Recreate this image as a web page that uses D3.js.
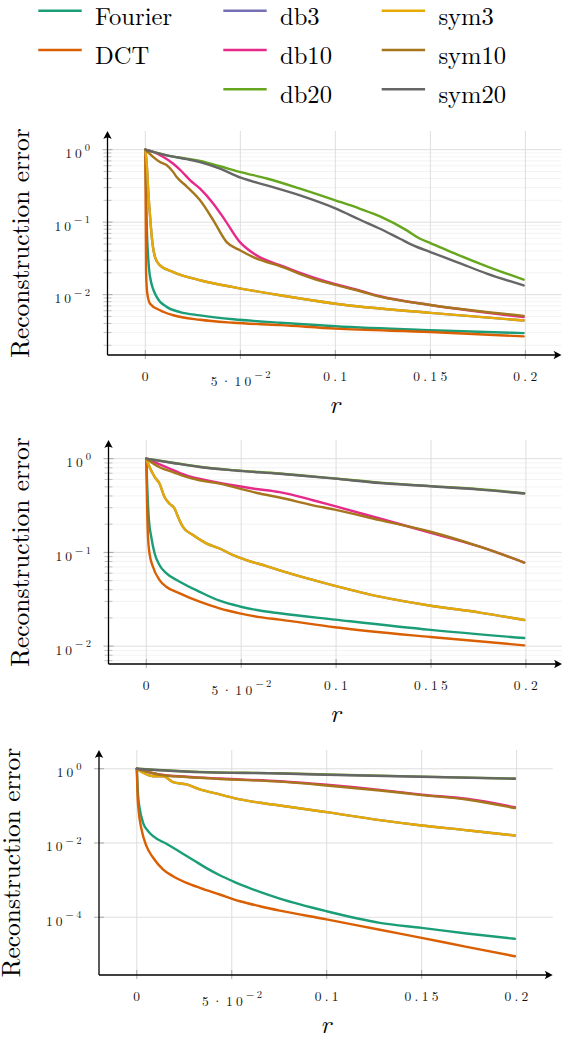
<!DOCTYPE html>
<html>
<head>
<meta charset="utf-8">
<script src="https://cdn.jsdelivr.net/npm/d3@7"></script>
<style>
body{margin:0;background:#fff}
svg{display:block}
</style>
</head>
<body>
<script>
var w=562, h=1038;

// series, in drawing order
var names=["Fourier","DCT","db3","db10","db20","sym3","sym10","sym20"];
var colors=["#1b9e77","#d95f02","#7570b3","#e7298a","#66a61e","#e6ab02","#a6761d","#666666"];

// legend slots, row by row (null = empty slot)
var legendRows=[["Fourier","db3","sym3"],["DCT","db10","sym10"],[null,"db20","sym20"]];

var xTicks=[0,0.05,0.1,0.15,0.2];
var xTickBase=["0","5·10","0.1","0.15","0.2"];
var xTickSup=["","−2","","",""];

// y tick exponents per panel
var p1Exp=[0,-1,-2], p2Exp=[0,-1,-2], p3Exp=[0,-2,-4];

// ---- panel 1 : [r, error]
var p1Fourier=[[0,1],[0.0008,0.08],[0.0016,0.03],[0.0025,0.0175],[0.006,0.0093],[0.0113,0.00675],[0.0183,0.00575],[0.0288,0.00518],[0.0463,0.00457],[0.0709,0.0041],[0.1,0.00366],[0.15,0.00323],[0.1991,0.00295]];
var p1DCT=[[0,1],[0.0004,0.02],[0.001,0.0105],[0.0025,0.0075],[0.0077,0.0061],[0.0147,0.0052],[0.0288,0.0045],[0.0463,0.0041],[0.0709,0.0038],[0.1,0.0034],[0.15,0.00305],[0.1991,0.00266]];
var p1Db3=[[0,1],[0.0008,0.6],[0.0016,0.25],[0.0025,0.12],[0.0034,0.062],[0.0051,0.033],[0.0077,0.0253],[0.0147,0.0205],[0.0288,0.0158],[0.0463,0.0127],[0.0709,0.0098],[0.1,0.0075],[0.15,0.0056],[0.1991,0.0044]];
var p1Db10=[[0,1],[0.0042,0.93],[0.0095,0.79],[0.0147,0.64],[0.0192,0.50],[0.0235,0.38],[0.0288,0.29],[0.0358,0.18],[0.042,0.106],[0.0498,0.053],[0.0568,0.0372],[0.0726,0.0245],[0.0867,0.0178],[0.1,0.0139],[0.1113,0.0117],[0.1235,0.0095],[0.15,0.0072],[0.176,0.0058],[0.1991,0.0049]];
var p1Db20=[[0,1],[0.0113,0.834],[0.0218,0.75],[0.0288,0.70],[0.0393,0.59],[0.0502,0.49],[0.0639,0.40],[0.0814,0.29],[0.1,0.2],[0.113,0.153],[0.1235,0.12],[0.1376,0.077],[0.1446,0.059],[0.15,0.0515],[0.1639,0.036],[0.1797,0.0246],[0.1991,0.0161]];
var p1Sym3=[[0,1],[0.0008,0.6],[0.0016,0.25],[0.0025,0.12],[0.0034,0.062],[0.0051,0.033],[0.0077,0.0253],[0.0147,0.0205],[0.0288,0.0158],[0.0463,0.0127],[0.0709,0.0098],[0.1,0.0075],[0.15,0.0056],[0.1991,0.0044]];
var p1Sym10=[[0,1],[0.0042,0.79],[0.0077,0.675],[0.0113,0.61],[0.0147,0.49],[0.0165,0.42],[0.0218,0.31],[0.0288,0.2],[0.0358,0.106],[0.0428,0.053],[0.0498,0.041],[0.0568,0.033],[0.0726,0.0238],[0.0867,0.0172],[0.1,0.0136],[0.1113,0.0115],[0.1235,0.0094],[0.15,0.0072],[0.176,0.0059],[0.1991,0.0051]];
var p1Sym20=[[0,1],[0.0113,0.834],[0.0218,0.74],[0.0288,0.675],[0.0393,0.547],[0.0502,0.41],[0.0639,0.322],[0.0814,0.234],[0.1,0.155],[0.113,0.108],[0.1235,0.081],[0.134,0.059],[0.141,0.0479],[0.15,0.0387],[0.1639,0.0282],[0.1797,0.0195],[0.1991,0.0134]];

// ---- panel 2
var p2Fourier=[[0,1],[0.0005,0.5],[0.0014,0.22],[0.0026,0.147],[0.0044,0.0975],[0.007,0.073],[0.0105,0.06],[0.0176,0.0487],[0.0281,0.038],[0.0386,0.0305],[0.0492,0.0265],[0.0597,0.024],[0.0703,0.0224],[0.0994,0.0192],[0.1498,0.0149],[0.1991,0.0122]];
var p2DCT=[[0,1],[0.0004,0.33],[0.0009,0.147],[0.0017,0.0975],[0.0035,0.0703],[0.007,0.0507],[0.0105,0.043],[0.0176,0.0366],[0.0281,0.0298],[0.0386,0.0253],[0.0492,0.0224],[0.0597,0.0204],[0.0703,0.0192],[0.0994,0.0159],[0.1498,0.0125],[0.1991,0.0102]];
var p2Db3=[[0,1],[0.0017,0.815],[0.0044,0.64],[0.007,0.54],[0.0096,0.39],[0.0123,0.33],[0.0149,0.294],[0.0167,0.24],[0.0193,0.187],[0.0246,0.153],[0.0316,0.125],[0.0386,0.11],[0.0457,0.0936],[0.0527,0.0828],[0.0633,0.0715],[0.0734,0.0615],[0.0994,0.044],[0.123,0.0337],[0.1498,0.027],[0.1757,0.0228],[0.1991,0.019]];
var p2Db10=[[0,1],[0.0105,0.814],[0.0211,0.664],[0.0316,0.588],[0.0457,0.52],[0.0562,0.48],[0.0703,0.44],[0.0878,0.36],[0.0994,0.311],[0.123,0.23],[0.1498,0.162],[0.1757,0.115],[0.1991,0.078]];
var p2Db20=[[0,1],[0.014,0.905],[0.0281,0.82],[0.0457,0.755],[0.0703,0.695],[0.0994,0.615],[0.123,0.555],[0.1498,0.51],[0.1757,0.472],[0.1991,0.428]];
var p2Sym3=[[0,1],[0.0017,0.815],[0.0044,0.64],[0.007,0.54],[0.0096,0.39],[0.0123,0.33],[0.0149,0.294],[0.0167,0.24],[0.0193,0.187],[0.0246,0.153],[0.0316,0.125],[0.0386,0.11],[0.0457,0.0936],[0.0527,0.0828],[0.0633,0.0715],[0.0734,0.0615],[0.0994,0.044],[0.123,0.0337],[0.1498,0.027],[0.1757,0.0228],[0.1991,0.019]];
var p2Sym10=[[0,1],[0.007,0.81],[0.014,0.72],[0.0211,0.64],[0.0281,0.588],[0.0386,0.542],[0.0492,0.48],[0.0597,0.425],[0.0703,0.385],[0.0878,0.318],[0.0994,0.286],[0.123,0.221],[0.1498,0.166],[0.1757,0.115],[0.1991,0.078]];
var p2Sym20=[[0,1],[0.014,0.9],[0.0281,0.815],[0.0457,0.75],[0.0703,0.69],[0.0994,0.612],[0.123,0.55],[0.1498,0.507],[0.1757,0.468],[0.1991,0.425]];

// ---- panel 3
var p3Fourier=[[0,1],[0.0007,0.183],[0.0016,0.08],[0.0033,0.035],[0.006,0.0208],[0.0086,0.0153],[0.0156,0.0095],[0.0226,0.0058],[0.0297,0.0035],[0.0367,0.0021],[0.0437,0.00135],[0.0507,0.00093],[0.0578,0.00066],[0.0648,0.00048],[0.0753,0.000316],[0.0999,0.000145],[0.128,7.06e-5],[0.15,5.18e-5],[0.1737,3.64e-5],[0.1991,2.62e-5]];
var p3DCT=[[0,1],[0.0004,0.183],[0.0009,0.08],[0.0025,0.0231],[0.0051,0.0082],[0.0086,0.004],[0.0139,0.00193],[0.0191,0.00127],[0.0262,0.000845],[0.0332,0.00062],[0.0437,0.00041],[0.0543,0.00027],[0.0648,0.000198],[0.0753,0.000151],[0.0999,8.8e-5],[0.128,4.6e-5],[0.15,2.79e-5],[0.1737,1.59e-5],[0.1991,8.9e-6]];
var p3Db3=[[0,1],[0.0033,0.78],[0.0086,0.63],[0.0139,0.63],[0.0191,0.435],[0.0262,0.378],[0.0332,0.277],[0.0437,0.203],[0.0543,0.149],[0.0648,0.121],[0.0753,0.1025],[0.0999,0.0676],[0.128,0.0412],[0.15,0.0296],[0.1737,0.0221],[0.1991,0.0159]];
var p3Db10=[[0,1],[0.0121,0.70],[0.0262,0.61],[0.0437,0.545],[0.0753,0.46],[0.0999,0.37],[0.128,0.27],[0.15,0.2],[0.1737,0.155],[0.1991,0.092]];
var p3Db20=[[0,1],[0.0332,0.82],[0.0753,0.755],[0.0999,0.70],[0.15,0.615],[0.1991,0.545]];
var p3Sym3=[[0,1],[0.0033,0.78],[0.0086,0.63],[0.0139,0.63],[0.0191,0.435],[0.0262,0.378],[0.0332,0.277],[0.0437,0.203],[0.0543,0.149],[0.0648,0.121],[0.0753,0.1025],[0.0999,0.0676],[0.128,0.0412],[0.15,0.0296],[0.1737,0.0221],[0.1991,0.0159]];
var p3Sym10=[[0,1],[0.0121,0.69],[0.0262,0.6],[0.0437,0.53],[0.0753,0.45],[0.0999,0.355],[0.128,0.26],[0.15,0.195],[0.1737,0.149],[0.1991,0.087]];
var p3Sym20=[[0,1],[0.0332,0.81],[0.0753,0.746],[0.0999,0.69],[0.15,0.608],[0.1991,0.537]];

var panels=[
 {series:[p1Fourier,p1DCT,p1Db3,p1Db10,p1Db20,p1Sym3,p1Sym10,p1Sym20],exps:p1Exp,minor:true,
  left:107.5,right:561.5,top:131,bottom:355,ylabX:28.5},
 {series:[p2Fourier,p2DCT,p2Db3,p2Db10,p2Db20,p2Sym3,p2Sym10,p2Sym20],exps:p2Exp,minor:true,
  left:108.5,right:562,top:440,bottom:664,ylabX:28.5},
 {series:[p3Fourier,p3DCT,p3Db3,p3Db10,p3Db20,p3Sym3,p3Sym10,p3Sym20],exps:p3Exp,minor:false,
  left:99,right:552.7,top:750,bottom:975,ylabX:19.5}
];

var lm="Latin Modern Roman, Liberation Serif, serif";
var svg=d3.select("body").append("svg").attr("width",w).attr("height",h);

// legend
var legCols=[38.3,223.3,381.7], legRowsY=[10.7,50,89.3];
legendRows.forEach(function(row,ri){
	row.forEach(function(nm,ci){
		if(nm==null) return;
		var c=colors[names.indexOf(nm)];
		svg.append("line").attr("x1",legCols[ci]).attr("x2",legCols[ci]+43.4)
		 .attr("y1",legRowsY[ri]).attr("y2",legRowsY[ri])
		 .attr("stroke",c).attr("stroke-width",2.4);
		svg.append("text").attr("x",legCols[ci]+56.7).attr("y",legRowsY[ri]+13.8)
		 .style("font-family",lm).attr("font-size",24.6).text(nm);
	});
});

function arrowPath(x,y,dir){
	if(dir=="up") return "M"+x+","+y+" L"+(x-4.2)+","+(y+8)+" Q"+x+","+(y+5)+" "+(x+4.2)+","+(y+8)+"Z";
	return "M"+x+","+y+" L"+(x-8)+","+(y-4.2)+" Q"+(x-5)+","+y+" "+(x-8)+","+(y+4.2)+"Z";
}

panels.forEach(function(p){
	var allR=[], allV=[];
	p.series.forEach(function(s){ s.forEach(function(d){ allR.push(d[0]); allV.push(d[1]); }); });
	var rx=d3.extent(allR), padx=(rx[1]-rx[0])*0.1;
	var lv=d3.extent(allV).map(Math.log10), pady=(lv[1]-lv[0])*0.1;

	var x=d3.scaleLinear().domain([rx[0]-padx,rx[1]+padx]).range([p.left,p.right]);
	var y=d3.scaleLog().domain([Math.pow(10,lv[0]-pady),Math.pow(10,lv[1]+pady)]).range([p.bottom,p.top]);

	var g=svg.append("g");

	// minor grid
	if(p.minor){
		var minors=[];
		for(var k=Math.floor(lv[0]-pady);k<=Math.ceil(lv[1]+pady);k++){
			for(var m=2;m<=9;m++){
				var v=m*Math.pow(10,k);
				if(y(v)<=p.bottom && y(v)>=p.top) minors.push(v);
			}
		}
		g.selectAll(".mg").data(minors).enter().append("line")
		 .attr("x1",p.left).attr("x2",p.right).attr("y1",y).attr("y2",y)
		 .attr("stroke","#f0f0f0").attr("stroke-width",0.8);
		g.selectAll(".mt").data(minors).enter().append("line")
		 .attr("x1",p.left-4).attr("x2",p.left+4).attr("y1",y).attr("y2",y)
		 .attr("stroke","#9a9a9a").attr("stroke-width",0.6);
	}
	var majors=p.exps.map(function(e){ return Math.pow(10,e); });
	g.selectAll(".hg").data(majors).enter().append("line")
	 .attr("x1",p.left).attr("x2",p.right).attr("y1",y).attr("y2",y)
	 .attr("stroke","#dadada").attr("stroke-width",0.9);
	g.selectAll(".vg").data(xTicks).enter().append("line")
	 .attr("x1",x).attr("x2",x).attr("y1",p.top).attr("y2",p.bottom)
	 .attr("stroke","#dadada").attr("stroke-width",0.9);
	// tick marks
	g.selectAll(".yt").data(majors).enter().append("line")
	 .attr("x1",p.left-5).attr("x2",p.left+5).attr("y1",y).attr("y2",y)
	 .attr("stroke","#8a8a8a").attr("stroke-width",0.7);
	g.selectAll(".xt").data(xTicks).enter().append("line")
	 .attr("x1",x).attr("x2",x).attr("y1",p.bottom-5).attr("y2",p.bottom+4)
	 .attr("stroke","#8a8a8a").attr("stroke-width",0.7);

	// curves
	var line=d3.line().x(function(d){return x(d[0]);}).y(function(d){return y(d[1]);}).curve(d3.curveMonotoneX);
	p.series.forEach(function(s,i){
		g.append("path").attr("d",line(s)).attr("fill","none")
		 .attr("stroke",colors[i]).attr("stroke-width",2.4)
		 .attr("stroke-linejoin","round").attr("stroke-linecap","round");
	});

	// axes
	g.append("line").attr("x1",p.left).attr("x2",p.left).attr("y1",p.bottom).attr("y2",p.top+4)
	 .attr("stroke","#000").attr("stroke-width",1.3);
	g.append("path").attr("d",arrowPath(p.left,p.top,"up")).attr("fill","#000");
	g.append("line").attr("x1",p.left).attr("x2",p.right-4).attr("y1",p.bottom).attr("y2",p.bottom)
	 .attr("stroke","#000").attr("stroke-width",1.3);
	g.append("path").attr("d",arrowPath(p.right,p.bottom,"right")).attr("fill","#000");

	// y tick labels
	p.exps.forEach(function(e){
		var t=g.append("text").attr("x",p.left-15).attr("y",y(Math.pow(10,e))+8.5)
		 .attr("text-anchor","end").style("font-family",lm).attr("fill","#111");
		t.append("tspan").attr("font-size",13.5).attr("letter-spacing",3).text("10");
		t.append("tspan").attr("font-size",10.5).attr("dy",-7.4).attr("letter-spacing",2.5).text(e==0?"0":"−"+(-e));
	});
	// x tick labels
	xTicks.forEach(function(v,i){
		var hasSup=xTickSup[i]!="";
		var t=g.append("text").attr("x",x(v)+1.5).attr("y",p.bottom+(hasSup?30.7:25.5))
		 .attr("text-anchor","middle").style("font-family",lm).attr("fill","#111");
		t.append("tspan").attr("font-size",13.5).attr("letter-spacing",3.3).text(xTickBase[i]);
		if(hasSup) t.append("tspan").attr("font-size",10.5).attr("dy",-7.4).attr("letter-spacing",2.5).text(xTickSup[i]);
	});

	// axis labels
	g.append("text").attr("x",(p.left+p.right)/2).attr("y",p.bottom+58)
	 .attr("text-anchor","middle").style("font-family",lm).attr("font-style","italic")
	 .attr("font-size",25).text("r");
	g.append("text").attr("transform","translate("+p.ylabX+","+((p.top+p.bottom)/2)+") rotate(-90)")
	 .attr("text-anchor","middle").style("font-family",lm).attr("font-size",25.4)
	 .text("Reconstruction error");
});
</script>
</body>
</html>
